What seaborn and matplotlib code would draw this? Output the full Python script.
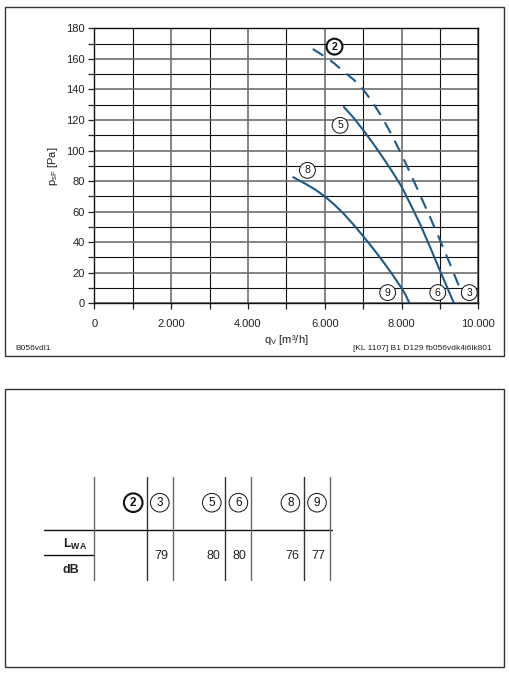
import numpy as np
import pandas as pd
import seaborn as sns
import matplotlib.pyplot as plt
from matplotlib.patches import Rectangle
from matplotlib.ticker import MultipleLocator, FuncFormatter

# fan curves: volume flow [m3/h] vs static pressure [Pa]
q_2 = [5690, 6000, 6250, 6500, 6750, 7000, 7250, 7500, 7750, 8000, 8250, 8500, 8750, 9000, 9250, 9500, 9620]
p_2 = [166.5, 161.5, 157, 151.5, 146.5, 140, 131.5, 121.5, 110, 97.5, 84, 70, 56, 41.5, 26.5, 11, 3.5]
q_5 = [6500, 6750, 7000, 7250, 7500, 7750, 8000, 8250, 8500, 8750, 9000, 9250, 9366]
p_5 = [128.5, 121.5, 113.5, 105, 96, 86.5, 76.5, 64, 51, 36.5, 21.5, 6.8, 0]
q_8 = [5180, 5500, 5750, 6000, 6250, 6500, 6750, 7000, 7250, 7500, 7750, 8000, 8100, 8210]
p_8 = [82.5, 78.2, 74.5, 70, 64.6, 58.5, 51.5, 44, 36.2, 28, 19.3, 10, 5.8, 0]

# circled point labels on the chart
label_ids = ["2", "5", "8", "9", "6", "3"]
label_q = [6255, 6400, 5550, 7640, 8945, 9765]
label_p = [168, 116.5, 87, 7, 7, 7]

# sound power table
table_ids = ["2", "3", "5", "6", "8", "9"]
table_lwa = ["", "79", "80", "80", "76", "77"]

x_ticks = [0, 2000, 4000, 6000, 8000, 10000]
y_ticks = [0, 20, 40, 60, 80, 100, 120, 140, 160, 180]

curves = pd.concat([
    pd.DataFrame({"q": q_2, "p": p_2, "curve": "2"}),
    pd.DataFrame({"q": q_5, "p": p_5, "curve": "5"}),
    pd.DataFrame({"q": q_8, "p": p_8, "curve": "8"}),
])

sns.set_theme(style="white")
plt.rcParams["font.family"] = ["Liberation Sans", "DejaVu Sans"]
blue = "#1d5b8a"

fig = plt.figure(figsize=(5.1, 6.8), dpi=100)
W, H = 510, 680

# frames
fig.patches.append(Rectangle((5 / W, 1 - 356 / H), 499 / W, 349 / H, transform=fig.transFigure,
                             fill=False, edgecolor="#333333", lw=1.0))
fig.patches.append(Rectangle((5 / W, 1 - 667.3 / H), 499 / W, 278 / H, transform=fig.transFigure,
                             fill=False, edgecolor="#333333", lw=1.0))

ax = fig.add_axes([94.3 / W, 1 - 303.3 / H, 384 / W, 275 / H])
sns.lineplot(data=curves, x="q", y="p", hue="curve", style="curve",
             palette={"2": blue, "5": blue, "8": blue},
             dashes={"2": (6, 4), "5": "", "8": ""},
             sort=False, estimator=None, lw=1.5, legend=False, ax=ax, zorder=4)
ax.set_xlim(0, 10000)
ax.set_ylim(0, 180)
ax.xaxis.set_minor_locator(MultipleLocator(1000))
ax.yaxis.set_minor_locator(MultipleLocator(10))
ax.set_xticks(x_ticks)
ax.set_yticks(y_ticks)
ax.xaxis.set_major_formatter(FuncFormatter(lambda v, _: f"{int(v):,}".replace(",", ".")))
ax.grid(which="major", color="#6e6e6e", lw=1.2)
ax.grid(which="minor", color="#111111", lw=0.8)
ax.set_axisbelow(True)
ax.tick_params(which="both", direction="out", left=True, bottom=True, color="#222222",
               labelsize=8, labelcolor="#222222", pad=3, length=4, width=0.9)
ax.tick_params(axis="x", pad=7)
for s in ax.spines.values():
    s.set_color("#111111")
    s.set_linewidth(1.0)
ax.set_xlabel(r"q$_\mathregular{V}$ [m³/h]", fontsize=8, color="#222222", labelpad=3)
ax.set_ylabel(r"p$_\mathregular{sF}$ [Pa]", fontsize=8, color="#222222", labelpad=4)

for lid, lq, lp in zip(label_ids, label_q, label_p):
    bold = lid == "2"
    ax.text(lq, lp, lid, ha="center", va="center", fontsize=7.5, color="#111111",
            fontweight="bold" if bold else "normal", zorder=6,
            bbox=dict(boxstyle="circle,pad=0.28", fc="white", ec="#111111", lw=1.5 if bold else 0.7))

fig.text(15 / W, 1 - 348 / H, "B056vdl1", fontsize=6, color="#222222", va="center", ha="left")
fig.text(492 / W, 1 - 348 / H, "[KL 1107] B1 D129 fb056vdk4i6lk801", fontsize=6, color="#222222",
         va="center", ha="right")

# sound table drawn in pixel space
tab = fig.add_axes([0, 0, 1, 1], zorder=-1)
tab.set_xlim(0, W)
tab.set_ylim(H, 0)
tab.axis("off")
x0, wide, narrow = 94.3, 52.4, 26.2
y_top, y_mid, y_bot = 476.7, 530.3, 580
tab.plot([44.3, x0 + 3 * (wide + narrow) + 2], [y_mid, y_mid], color="#111111", lw=1.0)
tab.plot([44.3, x0], [555.3, 555.3], color="#111111", lw=1.0)
tab.plot([x0, x0], [y_top, y_bot], color="#666666", lw=1.0)
for g in range(3):
    gx = x0 + g * (wide + narrow)
    tab.plot([gx + wide, gx + wide], [y_top, y_bot], color="#333333", lw=1.0)
    tab.plot([gx + wide + narrow, gx + wide + narrow], [y_top, y_bot], color="#666666", lw=1.0)
    for k in range(2):
        idx = 2 * g + k
        cx = gx + wide - 13.5 if k == 0 else gx + wide + narrow / 2
        bold = table_ids[idx] == "2"
        tab.text(cx, 502.7, table_ids[idx], ha="center", va="center", fontsize=8.5, color="#111111",
                 fontweight="bold" if bold else "normal",
                 bbox=dict(boxstyle="circle,pad=0.28", fc="white", ec="#111111", lw=1.5 if bold else 0.7))
        tab.text(cx + 1.5, 555.7, table_lwa[idx], ha="center", va="center", fontsize=9, color="#222222")
tab.text(63, 544.3, r"L$_\mathregular{WA}$", fontsize=9, fontweight="bold", va="center", ha="left",
         color="#222222")
tab.text(63, 570, "dB", fontsize=9, fontweight="bold", va="center", ha="left", color="#222222")

fig.savefig("out.png", dpi=100)
